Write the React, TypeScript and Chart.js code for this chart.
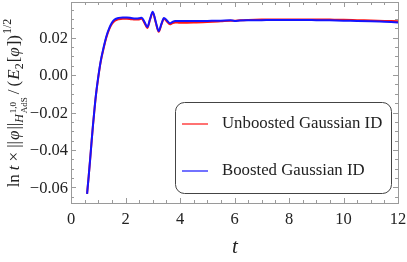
import React, { useEffect, useRef } from 'react';
import { Chart, registerables } from 'chart.js';
Chart.register(...registerables);

const tValues = [0.59, 0.65, 0.70, 0.75, 0.80, 0.85, 0.91, 1.00, 1.09, 1.20, 1.30, 1.40, 1.50, 1.60, 1.75, 1.90, 2.05, 2.20, 2.35, 2.50, 2.59, 2.70, 2.80, 2.90, 3.00, 3.11, 3.22, 3.32, 3.41, 3.52, 3.63, 3.73, 3.82, 4.0, 4.5, 5.0, 5.5, 5.85, 6.0, 6.2, 6.5, 7.0, 7.5, 8.0, 8.5, 9.0, 9.5, 10.0, 10.5, 11.0, 11.5, 12.0];
const boosted = [-0.0635, -0.054, -0.0455, -0.0365, -0.0278, -0.02, -0.0112, -0.001, 0.0075, 0.015, 0.0208, 0.025, 0.028, 0.0297, 0.0306, 0.0308, 0.0308, 0.0306, 0.0303, 0.0304, 0.0307, 0.0284, 0.0257, 0.03, 0.0339, 0.0285, 0.0236, 0.0275, 0.0306, 0.0292, 0.0277, 0.0285, 0.0289, 0.0289, 0.0289, 0.029, 0.0291, 0.0293, 0.029, 0.0292, 0.0293, 0.0294, 0.0295, 0.0295, 0.0295, 0.0294, 0.0293, 0.0291, 0.029, 0.0288, 0.0285, 0.0282];
const unboosted = [-0.0635, -0.054, -0.0455, -0.0366, -0.028, -0.0202, -0.0115, -0.0013, 0.0071, 0.0145, 0.0202, 0.0244, 0.0273, 0.029, 0.0299, 0.0301, 0.0301, 0.0299, 0.0297, 0.0298, 0.0301, 0.0278, 0.0252, 0.0296, 0.0335, 0.0281, 0.0232, 0.0271, 0.0302, 0.0287, 0.0272, 0.0279, 0.0282, 0.028, 0.0281, 0.0284, 0.0288, 0.0291, 0.0291, 0.0293, 0.0295, 0.0297, 0.0298, 0.0298, 0.0298, 0.0298, 0.0297, 0.0296, 0.0294, 0.0292, 0.029, 0.0288];

const xMajorTicks = [0, 2, 4, 6, 8, 10, 12];
const xMinorStep = 0.5;
const yMajorTicks = [-0.06, -0.04, -0.02, 0, 0.02];
const yTickLabels = ['\u22120.06', '\u22120.04', '\u22120.02', '0.00', '0.02'];
const yMinorStep = 0.005;
const legendLabels = ['Unboosted Gaussian ID', 'Boosted Gaussian ID'];
const seriesColors = ['rgb(255,20,20)', 'rgb(20,20,255)'];

const FONT = '"Liberation Serif", "DejaVu Serif", serif';

type MathItem = { text?: string; size: number; italic?: boolean; dy?: number; gap?: number; stack?: { text: string; size: number; italic?: boolean; dy: number }[] };

const yLabelItems: MathItem[] = [
  { text: 'ln', size: 17, gap: 4 },
  { text: 't', size: 17, italic: true, gap: 4 },
  { text: '\u00d7', size: 17, gap: 4 },
  { text: '||', size: 17, gap: 1 },
  { text: '\u03c6', size: 17, italic: true, gap: 1 },
  { text: '||', size: 17 },
  { text: 'H', size: 12, italic: true, dy: 4, gap: 1 },
  { size: 9, stack: [{ text: '1,0', size: 9, dy: -3 }, { text: 'AdS', size: 9, dy: 8 }], gap: 3 },
  { text: '/', size: 17, gap: 3 },
  { text: '(', size: 17, gap: 1 },
  { text: 'E', size: 17, italic: true },
  { text: '2', size: 12, dy: 4, gap: 1 },
  { text: '[', size: 17 },
  { text: '\u03c6', size: 17, italic: true, gap: 1 },
  { text: '])', size: 17, gap: 1 },
  { text: '1/2', size: 12, dy: -8 },
];

function fontOf(size: number, italic?: boolean) {
  return `${italic ? 'italic ' : ''}${size}px ${FONT}`;
}

const decorPlugin = {
  id: 'decor',
  afterDraw(chart: any) {
    const ctx = chart.ctx as CanvasRenderingContext2D;
    const ca = chart.chartArea;
    const xs = chart.scales.x;
    const ys = chart.scales.y;
    ctx.save();
    ctx.strokeStyle = '#9a9a9a';
    ctx.lineWidth = 1;
    ctx.strokeRect(Math.round(ca.left) + 0.5, Math.round(ca.top) + 0.5, Math.round(ca.right - ca.left), Math.round(ca.bottom - ca.top));
    ctx.beginPath();
    for (let v = xs.min; v <= xs.max + 1e-9; v += xMinorStep) {
      const px = Math.round(xs.getPixelForValue(v)) + 0.5;
      const major = xMajorTicks.some((m) => Math.abs(m - v) < 1e-9);
      const len = major ? 5 : 3;
      ctx.moveTo(px, ca.bottom); ctx.lineTo(px, ca.bottom - len);
      ctx.moveTo(px, ca.top); ctx.lineTo(px, ca.top + len);
    }
    const start = Math.ceil(ys.min / yMinorStep) * yMinorStep;
    for (let v = start; v <= ys.max + 1e-9; v += yMinorStep) {
      const py = Math.round(ys.getPixelForValue(v)) + 0.5;
      const major = yMajorTicks.some((m) => Math.abs(m - v) < 1e-9);
      const len = major ? 5 : 3;
      ctx.moveTo(ca.left, py); ctx.lineTo(ca.left + len, py);
      ctx.moveTo(ca.right, py); ctx.lineTo(ca.right - len, py);
    }
    ctx.stroke();
    ctx.fillStyle = '#222';
    ctx.font = fontOf(16.5);
    ctx.textAlign = 'center';
    ctx.textBaseline = 'middle';
    xMajorTicks.forEach((v) => {
      ctx.fillText(String(v), xs.getPixelForValue(v), 220);
    });
    ctx.textAlign = 'right';
    yMajorTicks.forEach((v, i) => {
      ctx.fillText(yTickLabels[i], 68, ys.getPixelForValue(v) + 1);
    });
    ctx.font = fontOf(21, true);
    ctx.textAlign = 'center';
    ctx.fillText('t', 235, 247);
    ctx.textAlign = 'left';
    ctx.textBaseline = 'alphabetic';
    const widths = yLabelItems.map((it) => {
      let w;
      if (it.stack) {
        w = Math.max(...it.stack.map((s) => { ctx.font = fontOf(s.size, s.italic); return ctx.measureText(s.text).width; }));
      } else {
        ctx.font = fontOf(it.size, it.italic);
        w = ctx.measureText(it.text as string).width;
      }
      return w + (it.gap || 0);
    });
    const total = widths.reduce((a, b) => a + b, 0);
    ctx.save();
    ctx.translate(19, 103);
    ctx.rotate(-Math.PI / 2);
    let x = -total / 2;
    yLabelItems.forEach((it, i) => {
      if (it.stack) {
        it.stack.forEach((s) => { ctx.font = fontOf(s.size, s.italic); ctx.fillText(s.text, x, s.dy); });
      } else {
        ctx.font = fontOf(it.size, it.italic);
        ctx.fillText(it.text as string, x, it.dy || 0);
      }
      x += widths[i];
    });
    ctx.restore();
    const bx = 175.5, by = 102.5, bw = 216, bh = 91, r = 9;
    ctx.beginPath();
    ctx.moveTo(bx + r, by);
    ctx.arcTo(bx + bw, by, bx + bw, by + bh, r);
    ctx.arcTo(bx + bw, by + bh, bx, by + bh, r);
    ctx.arcTo(bx, by + bh, bx, by, r);
    ctx.arcTo(bx, by, bx + bw, by, r);
    ctx.closePath();
    ctx.fillStyle = '#fff';
    ctx.fill();
    ctx.strokeStyle = '#444';
    ctx.lineWidth = 1;
    ctx.stroke();
    const rowsY = [124, 171];
    legendLabels.forEach((lab, i) => {
      ctx.strokeStyle = seriesColors[i];
      ctx.lineWidth = 1.2;
      ctx.beginPath();
      ctx.moveTo(182, rowsY[i]); ctx.lineTo(208, rowsY[i]);
      ctx.stroke();
      ctx.fillStyle = '#222';
      ctx.font = fontOf(16.8);
      ctx.textBaseline = 'middle';
      ctx.textAlign = 'left';
      ctx.fillText(lab, 222, rowsY[i]);
    });
    ctx.restore();
  },
};

export default function App() {
  const ref = useRef<HTMLCanvasElement>(null);
  useEffect(() => {
    if (!ref.current) return;
    const chart = new Chart(ref.current, {
      type: 'line',
      data: {
        datasets: [
          { label: legendLabels[0], data: tValues.map((t, i) => ({ x: t, y: unboosted[i] })), borderColor: seriesColors[0], borderWidth: 2, pointRadius: 0, cubicInterpolationMode: 'monotone', fill: false, order: 2 },
          { label: legendLabels[1], data: tValues.map((t, i) => ({ x: t, y: boosted[i] })), borderColor: seriesColors[1], borderWidth: 2, pointRadius: 0, cubicInterpolationMode: 'monotone', fill: false, order: 1 },
        ],
      },
      options: {
        responsive: false,
        animation: false,
        layout: { padding: { left: 71, right: 9, top: 2, bottom: 59 } },
        plugins: { legend: { display: false }, tooltip: { enabled: false } },
        scales: {
          x: { type: 'linear', display: false, min: 0, max: 12 },
          y: { type: 'linear', display: false, min: -0.0684, max: 0.0391 },
        },
      },
      plugins: [decorPlugin],
    } as any);
    return () => chart.destroy();
  }, []);
  return (
    <div style={{ position: 'absolute', left: 0, top: 0, width: 407, height: 262, background: '#fff' }}>
      <canvas ref={ref} width={407} height={262} />
    </div>
  );
}
